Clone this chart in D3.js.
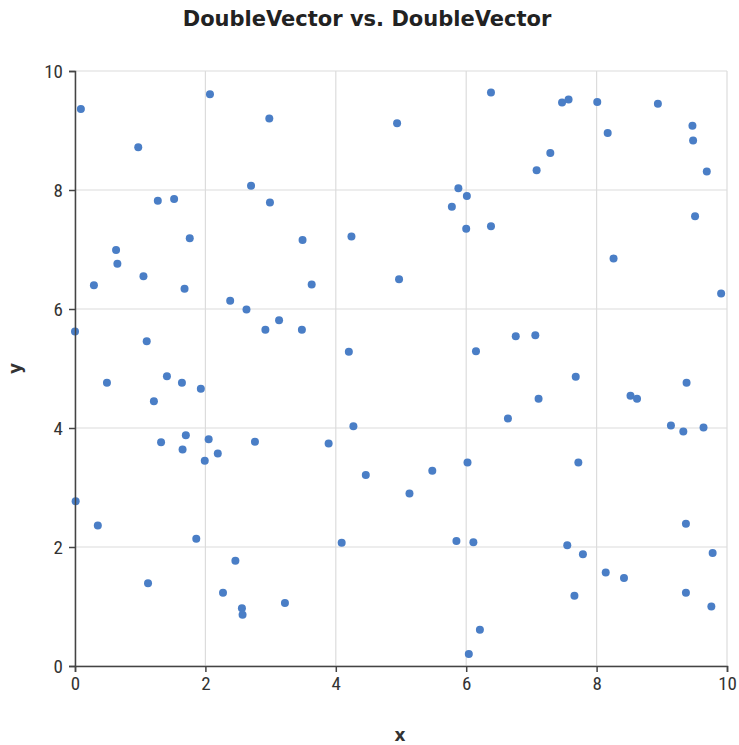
<!DOCTYPE html>
<html>
<head>
<meta charset="utf-8">
<script src="https://cdn.jsdelivr.net/npm/d3@7"></script>
<style>
  html, body { margin: 0; padding: 0; background: #fff; }
  svg { display: block; }
  .tick text { font-family: "Liberation Sans Narrow", "Roboto Condensed", "Liberation Sans", sans-serif; font-size: 19px; fill: #333; }
  .axis-title { font-family: "DejaVu Sans", sans-serif; font-weight: bold; font-size: 17px; fill: #333; }
  .title { font-family: "DejaVu Sans", sans-serif; font-weight: bold; font-size: 21px; fill: #222; }
</style>
</head>
<body>
<svg id="chart" width="739" height="745"></svg>
<script>
const xValues = [
  0.09, 2.07, 2.98, 4.94, 0.97, 2.70, 1.27, 1.52, 2.99, 1.76,
  3.49, 4.24, 0.63, 0.65, 1.05, 0.29, 1.68, 3.63, 4.97, 2.38,
  2.63, 3.13, 2.92, 3.48, 0.00, 1.10, 4.20,
  6.38, 7.47, 7.57, 8.01, 8.94, 9.47, 9.48, 9.69, 8.17, 7.29,
  7.08, 5.88, 6.01, 5.78, 6.00, 6.38, 9.51, 8.26, 9.91, 6.15,
  6.76, 7.06,
  0.49, 1.41, 1.64, 1.93, 1.21, 1.32, 1.70, 1.65, 2.05, 2.19,
  1.99, 2.76, 3.89, 4.27, 4.46, 0.01, 0.35, 1.86, 4.09, 2.46,
  1.12, 2.27, 3.22, 2.56, 2.57,
  7.68, 9.38, 7.11, 8.52, 8.62, 6.64, 9.14, 9.33, 9.64, 5.48,
  5.13, 6.02, 7.72, 9.37, 5.85, 6.11, 7.55, 7.79, 9.78, 8.14,
  8.42, 7.66, 9.37, 9.76, 6.21, 6.04
];
const yValues = [
  9.36, 9.61, 9.20, 9.12, 8.72, 8.07, 7.82, 7.85, 7.79, 7.19,
  7.16, 7.22, 6.99, 6.76, 6.55, 6.40, 6.34, 6.41, 6.50, 6.14,
  5.99, 5.81, 5.65, 5.65, 5.62, 5.46, 5.28,
  9.64, 9.47, 9.52, 9.48, 9.45, 9.08, 8.83, 8.31, 8.96, 8.62,
  8.33, 8.03, 7.90, 7.72, 7.35, 7.39, 7.56, 6.85, 6.26, 5.29,
  5.54, 5.56,
  4.76, 4.87, 4.76, 4.66, 4.45, 3.76, 3.88, 3.64, 3.81, 3.57,
  3.45, 3.77, 3.74, 4.03, 3.21, 2.77, 2.36, 2.14, 2.07, 1.77,
  1.39, 1.23, 1.06, 0.97, 0.86,
  4.86, 4.76, 4.49, 4.54, 4.49, 4.16, 4.04, 3.94, 4.01, 3.28,
  2.90, 3.42, 3.42, 2.39, 2.10, 2.08, 2.03, 1.88, 1.90, 1.57,
  1.48, 1.18, 1.23, 1.00, 0.61, 0.20
];
const xTicks = [0, 2, 4, 6, 8, 10];
const yTicks = [0, 2, 4, 6, 8, 10];
const chartTitle = "DoubleVector vs. DoubleVector";

const width = 739, height = 745;
const margin = { top: 71, right: 12, bottom: 79, left: 75 };
const innerW = width - margin.left - margin.right;
const innerH = height - margin.top - margin.bottom;

const svg = d3.select("#chart");
const g = svg.append("g").attr("transform", `translate(${margin.left},${margin.top})`);

const x = d3.scaleLinear().domain([0, 10]).range([0, innerW]);
const y = d3.scaleLinear().domain([0, 10]).range([innerH, 0]);

// grid lines
g.append("g").selectAll("line").data(xTicks).join("line")
  .attr("x1", d => x(d)).attr("x2", d => x(d))
  .attr("y1", 0).attr("y2", innerH)
  .attr("stroke", "#dcdcdc").attr("stroke-width", 1.2);
g.append("g").selectAll("line").data(yTicks).join("line")
  .attr("x1", 0).attr("x2", innerW)
  .attr("y1", d => y(d)).attr("y2", d => y(d))
  .attr("stroke", "#dcdcdc").attr("stroke-width", 1.2);

// points
const points = xValues.map((v, i) => ({ x: v, y: yValues[i] }));
g.append("g").selectAll("circle").data(points).join("circle")
  .attr("cx", d => x(d.x))
  .attr("cy", d => y(d.y))
  .attr("r", 4)
  .attr("fill", "#4a7ec6");

// axes
const xAxis = g.append("g").attr("transform", `translate(0,${innerH})`)
  .call(d3.axisBottom(x).tickValues(xTicks).tickSize(6).tickPadding(5));
const yAxis = g.append("g")
  .call(d3.axisLeft(y).tickValues(yTicks).tickSize(6).tickPadding(6));
[xAxis, yAxis].forEach(a => {
  a.select(".domain").attr("stroke", "#444").attr("stroke-width", 1.5);
  a.selectAll(".tick line").attr("stroke", "#444").attr("stroke-width", 1.5);
});
yAxis.selectAll(".tick text").attr("dy", "0.35em");

// titles
svg.append("text").attr("class", "title")
  .attr("x", 367).attr("y", 26)
  .attr("text-anchor", "middle").text(chartTitle);
svg.append("text").attr("class", "axis-title")
  .attr("x", 400).attr("y", 741)
  .attr("text-anchor", "middle").text("x");
svg.append("text").attr("class", "axis-title")
  .attr("transform", `translate(21,${margin.top + innerH / 2}) rotate(-90)`)
  .attr("text-anchor", "middle").text("y");
</script>
</body>
</html>
